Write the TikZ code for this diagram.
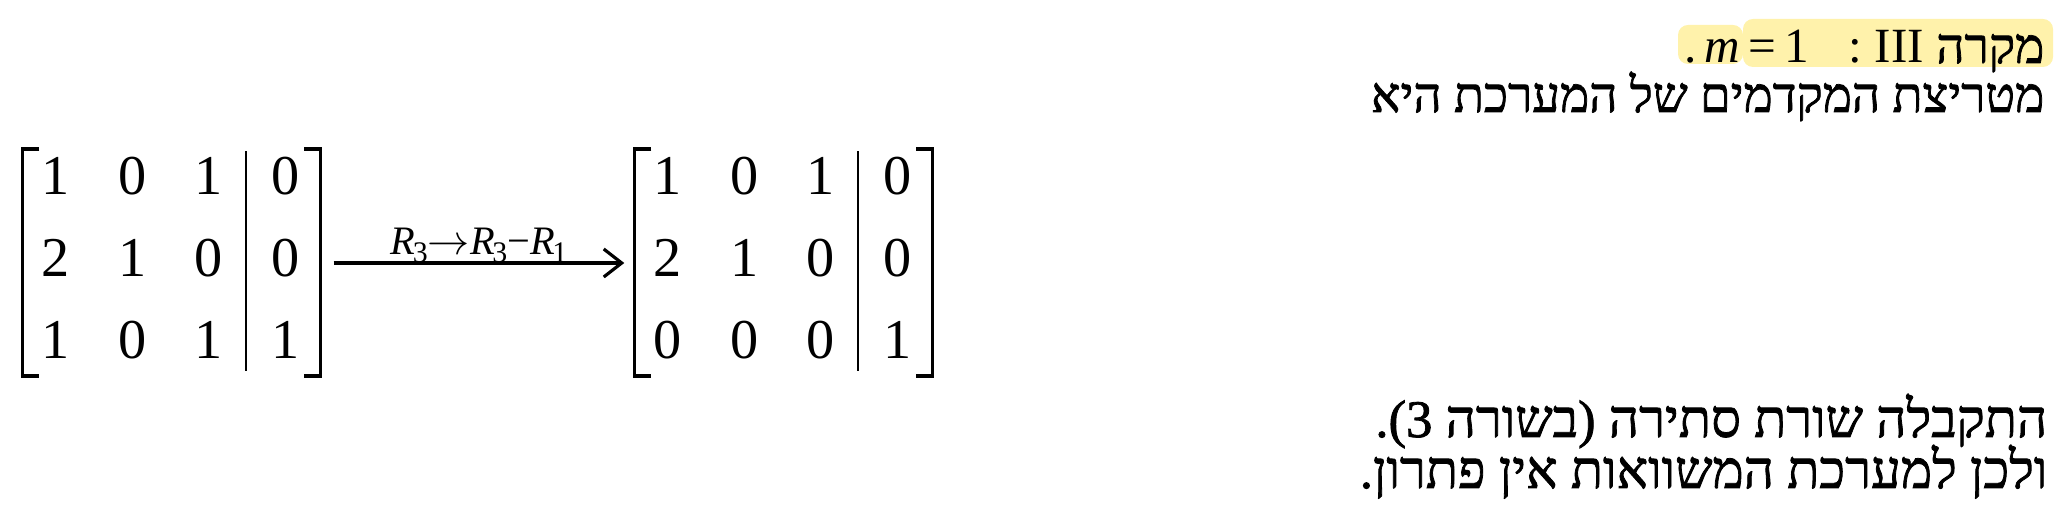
\documentclass[tikz,border=0pt]{standalone}
\usepackage{fontspec}
\setmainfont{Liberation Serif}
\newfontfamily\hebfont[Script=Hebrew, FakeBold=1.5]{Liberation Serif}
\newfontfamily\latfont{Liberation Serif}
\TeXXeTstate=1
\usetikzlibrary{arrows.meta,matrix}
\definecolor{hilite}{RGB}{255,242,171}

\newcommand{\rsub}[1]{\textit{R}\kern-0.06em\raisebox{-0.4ex}{\fontsize{8.5}{9}\selectfont#1}}

\begin{document}
\begin{tikzpicture}[
  every node/.style={inner sep=0pt},
  heb/.style={font=\hebfont\fontsize{14}{16}\selectfont, anchor=base east},
  hebbig/.style={heb, font=\hebfont\fontsize{15}{17}\selectfont},
  aug/.style={matrix of nodes, inner sep=0pt, column sep=0pt, row sep=0pt,
    nodes={minimum width=7.65mm, minimum height=8.2mm, font=\fontsize{16}{18}\selectfont}},
  brk/.style={line width=0.95pt},
  bar/.style={line width=0.6pt},
  glow/.style={fill=hilite, rounded corners=1mm},
  arr/.style={-{Straight Barb[length=1.8mm,width=2.8mm]}, line width=0.9pt},
  op/.style={font=\fontsize{11.5}{13}\selectfont, anchor=base}
]
\useasboundingbox (0,0) rectangle (20.6,5.2);

% highlights
\fill[glow] (17.43,4.53) rectangle (20.53,5.01);
\fill[glow] (16.78,4.56) rectangle (17.43,4.95);

% text lines
\node[heb] (case) at (20.45,4.57) {\beginR מקרה {\latfont\beginL III\endL\ :\hspace{4mm}\beginL\textit{m}\,=\,1\endL\,.}\endR};
\node[heb] (intro) at (20.45,4.08) {\beginR מטריצת המקדמים של המערכת היא\endR};
\node[hebbig] (found) at (20.48,0.83) {\beginR התקבלה שורת סתירה (בשורה 3).\endR};
\node[hebbig] (verdict) at (20.48,0.32) {\beginR ולכן למערכת המשוואות אין פתרון.\endR};

% matrices
\matrix[aug] (lhs) at (1.705,2.62) {1 & 0 & 1 & 0\\ 2 & 1 & 0 & 0\\ 1 & 0 & 1 & 1\\};
\matrix[aug] (rhs) at (7.825,2.62) {1 & 0 & 1 & 0\\ 2 & 1 & 0 & 0\\ 0 & 0 & 0 & 1\\};

\foreach \m in {lhs,rhs} {
  \draw[brk] ([shift={(0.225,-0.15)}]\m.north west) -| ([shift={(0.06,0.06)}]\m.south west) -- ++(0.165,0);
  \draw[brk] ([shift={(-0.2,-0.15)}]\m.north east) -| ([shift={(-0.035,0.06)}]\m.south east) -- ++(-0.165,0);
  \draw[bar] ([yshift=-1.7mm]\m-1-4.north west) -- ([yshift=1.1mm]\m-3-4.south west);
}

% row operation
\draw[arr] ([shift={(0.095,-0.05)}]lhs.east) -- node[op, yshift=0.8mm] (rowop) {\rsub{3}$\rightarrow$\rsub{3}−\rsub{1}} ([shift={(-0.045,-0.05)}]rhs.west);
\end{tikzpicture}
\end{document}
